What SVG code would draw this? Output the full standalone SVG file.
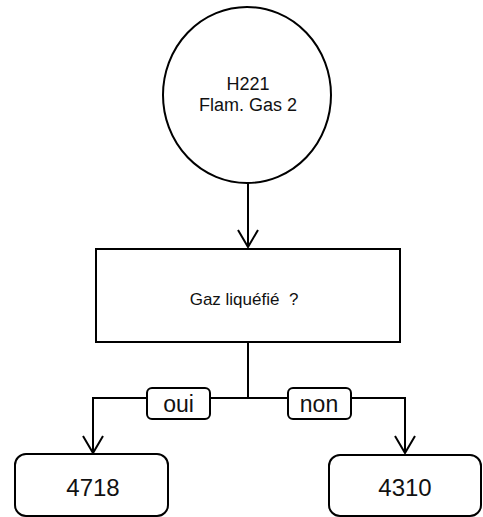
<svg xmlns="http://www.w3.org/2000/svg" width="483" height="517" viewBox="0 0 483 517">
  <defs>
    <marker id="arrow" markerUnits="userSpaceOnUse" markerWidth="20" markerHeight="24" viewBox="-18 -12 20 24" refX="0" refY="0" orient="auto" overflow="visible">
      <path d="M-17,-10 L0,0 L-17,10" fill="none" stroke="#000" stroke-width="2"/>
    </marker>
  </defs>
  <style>
    .shape { fill: #fff; stroke: #000; stroke-width: 2; }
    .conn { fill: none; stroke: #000; stroke-width: 2; }
    .txt { font-family: "Liberation Sans", Arial, sans-serif; fill: #111; text-anchor: middle; }
  </style>
  <rect width="483" height="517" fill="#fff"/>

  <g id="connectors">
    <path class="conn" d="M248,183 V247" marker-end="url(#arrow)"/>
    <path class="conn" d="M248,342 V398 H93 V453" marker-end="url(#arrow)"/>
    <path class="conn" d="M248,398 H405 V453" marker-end="url(#arrow)"/>
  </g>

  <g id="node-h221">
    <ellipse class="shape" cx="247" cy="95" rx="84" ry="88"/>
    <text class="txt" x="248" y="90" font-size="18">H221</text>
    <text class="txt" x="248" y="111" font-size="18">Flam. Gas 2</text>
  </g>

  <g id="node-question">
    <rect class="shape" x="96" y="249" width="304" height="93"/>
    <text class="txt" x="244" y="305" font-size="17" xml:space="preserve">Gaz liquéfié  ?</text>
  </g>

  <g id="label-oui">
    <rect class="shape" x="147" y="388" width="63" height="31" rx="5"/>
    <text class="txt" x="178.5" y="412" font-size="23">oui</text>
  </g>

  <g id="label-non">
    <rect class="shape" x="288" y="388" width="63" height="31" rx="5"/>
    <text class="txt" x="319" y="412" font-size="23">non</text>
  </g>

  <g id="node-4718">
    <rect class="shape" x="15" y="454" width="153" height="62" rx="11"/>
    <text class="txt" x="93" y="496" font-size="24">4718</text>
  </g>

  <g id="node-4310">
    <rect class="shape" x="329" y="455" width="152" height="61" rx="11"/>
    <text class="txt" x="405" y="496" font-size="24">4310</text>
  </g>
</svg>
